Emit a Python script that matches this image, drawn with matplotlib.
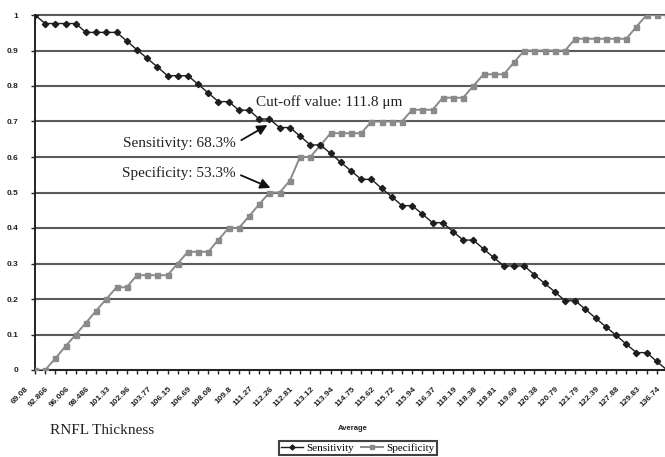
import matplotlib.pyplot as plt
import matplotlib.transforms as mtransforms
import numpy as np

# values (63 cut-off points)
sensitivity = [1.0, 0.976, 0.976, 0.976, 0.976, 0.951, 0.951, 0.951, 0.951, 0.927,
               0.902, 0.878, 0.854, 0.829, 0.829, 0.829, 0.805, 0.780, 0.756, 0.756,
               0.732, 0.732, 0.707, 0.707, 0.683, 0.683, 0.659, 0.634, 0.634, 0.610,
               0.585, 0.561, 0.537, 0.537, 0.512, 0.488, 0.463, 0.463, 0.439, 0.415,
               0.415, 0.390, 0.366, 0.366, 0.341, 0.317, 0.293, 0.293, 0.293, 0.268,
               0.244, 0.220, 0.195, 0.195, 0.171, 0.146, 0.122, 0.098, 0.073, 0.049,
               0.049, 0.024, 0.0]
specificity = [0.0, 0.0, 0.033, 0.067, 0.100, 0.133, 0.167, 0.200, 0.233, 0.233,
               0.267, 0.267, 0.267, 0.267, 0.300, 0.333, 0.333, 0.333, 0.367, 0.400,
               0.400, 0.433, 0.467, 0.500, 0.500, 0.533, 0.600, 0.600, 0.633, 0.667,
               0.667, 0.667, 0.667, 0.700, 0.700, 0.700, 0.700, 0.733, 0.733, 0.733,
               0.767, 0.767, 0.767, 0.800, 0.833, 0.833, 0.833, 0.867, 0.900, 0.900,
               0.900, 0.900, 0.900, 0.933, 0.933, 0.933, 0.933, 0.933, 0.933, 0.967,
               1.0, 1.0, 1.0]
# every other category carries a label
tick_labels = ['69.08', '92.866', '96.006', '98.486', '101.33', '102.96', '103.77', '106.15',
               '106.69', '108.08', '109.8', '111.27', '112.26', '112.81', '113.12', '113.94',
               '114.75', '115.62', '115.72', '115.94', '116.37', '118.19', '118.38', '118.81',
               '119.69', '120.38', '120.79', '121.79', '122.39', '127.88', '129.83', '136.74']

sans = 'Liberation Sans'
serif = 'Liberation Serif'

fig = plt.figure(figsize=(6.65, 4.57), dpi=100)
ax = fig.add_axes([35/665, 87/457, 632/665, 355/457])

x = np.arange(len(sensitivity))
ax.plot(x, sensitivity, color='#1e1e1e', lw=1.0, marker='D', markersize=3.2,
        label='Sensitivity', zorder=4)
ax.plot(x, specificity, color='#8a8a8a', lw=1.4, marker='s', markersize=3.6,
        label='Specificity', zorder=3)

ax.set_xlim(0, len(x) - 1)
ax.set_ylim(0, 1)

# horizontal gridlines
ax.set_yticks(np.arange(0, 1.01, 0.1))
ax.set_yticklabels(['0', '0.1', '0.2', '0.3', '0.4', '0.5', '0.6', '0.7', '0.8', '0.9', '1'],
                   fontsize=6, fontweight='bold', family=sans, color='#222222')
ax.yaxis.grid(True, color='#5a5a5a', lw=1.5)
for gl in ax.get_ygridlines():
    gl.set_clip_on(False)
ax.set_axisbelow(True)

labels = [''] * len(x)
labels[::2] = tick_labels
ax.set_xticks(x)
ax.set_xticklabels(labels, rotation=45, ha='right', va='top', rotation_mode='anchor',
                   fontsize=6, fontweight='bold', family=sans, color='#222222')

ax.tick_params(axis='x', length=3, width=1, pad=8, color='#222222')
ax.tick_params(axis='y', length=3, width=1, pad=9, color='#222222')
for side in ['top', 'right']:
    ax.spines[side].set_visible(False)
for side in ['left', 'bottom']:
    ax.spines[side].set_color('#222222')
    ax.spines[side].set_linewidth(1.4)

# the rotated labels sit a little left of their ticks in the reference
# (done after tick_params, which would reset the transforms)
shift = mtransforms.ScaledTranslation(-7/72, 0, fig.dpi_scale_trans)
for lbl in ax.xaxis.get_majorticklabels():
    lbl.set_transform(lbl.get_transform() + shift)

ax.set_xlabel('Average', fontsize=5.5, fontweight='bold', family=sans, color='#222222')
ax.xaxis.set_label_coords(0.503, -0.155)

# annotations for the chosen cut-off
ax.text(28.9, 0.755, 'Cut-off value: 111.8 \u03bcm', ha='center', va='center',
        fontsize=11, family=serif, color='#222222')
ax.annotate('Sensitivity: 68.3%', xy=(22.8, 0.69), xytext=(14.2, 0.639),
            ha='center', va='center', fontsize=11, family=serif, color='#222222',
            arrowprops=dict(arrowstyle='-|>', color='#111111', lw=1.3,
                            mutation_scale=15, relpos=(1, 0.5), shrinkA=2, shrinkB=0))
ax.annotate('Specificity: 53.3%', xy=(23.1, 0.513), xytext=(14.1, 0.555),
            ha='center', va='center', fontsize=11, family=serif, color='#222222',
            arrowprops=dict(arrowstyle='-|>', color='#111111', lw=1.3,
                            mutation_scale=15, relpos=(1, 0.5), shrinkA=2, shrinkB=0))

fig.text(50/665, 1 - 431/457, 'RNFL Thickness', ha='left', va='center',
         fontsize=11, family=serif, color='#222222')

leg = fig.legend(loc='center', bbox_to_anchor=(358/665, 9/457), ncol=2, frameon=True,
                 fancybox=False, prop={'family': serif, 'size': 8},
                 handlelength=2.0, handletextpad=0.3, columnspacing=0.6,
                 borderpad=0.15, markerscale=0.8)
leg.get_frame().set_edgecolor('#111111')
leg.get_frame().set_linewidth(1.5)

fig.savefig('out.png', dpi=100)
